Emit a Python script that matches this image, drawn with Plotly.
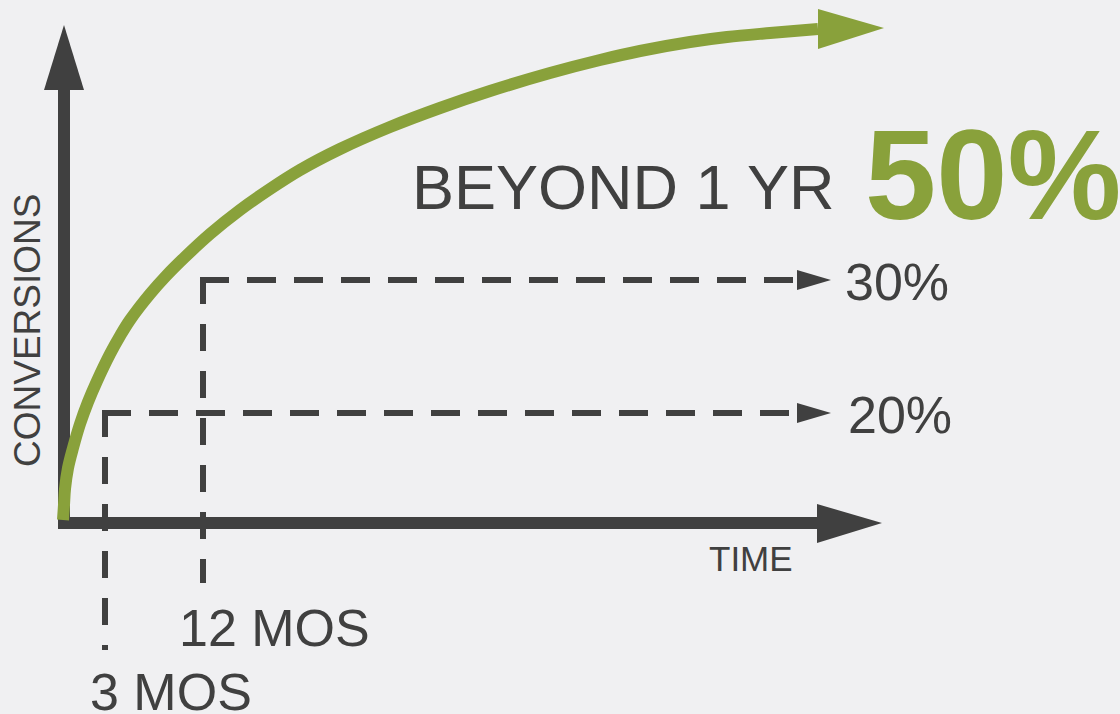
import plotly.graph_objects as go

# ---- data (chart drawn in a 1120 x 714 canvas coordinate frame, y downward) ----
curve_x = [63, 64, 65, 68, 73, 80, 88, 97, 110, 120, 130, 150, 166, 185, 210, 240, 270, 300, 340, 390, 440, 490, 550, 600, 640, 690, 727, 770, 818]
curve_y = [520, 505, 489, 468, 448, 424, 402, 381, 354, 336, 320, 294, 276, 257, 234, 210, 189, 170, 149, 127, 108, 91, 73, 60, 51, 42, 37, 33, 29]

milestone_labels = ["3 MOS", "12 MOS"]
milestone_x = [105, 203]
level_labels = ["20%", "30%"]
level_y = [413, 280]
milestone_end_y = [650, 583]
headline = "BEYOND 1 YR"
headline_value = "50%"
x_title = "TIME"
y_title = "CONVERSIONS"

DARK = "#404040"
GREEN = "#89a13b"
BG = "#f0f0f2"
FONT = "Liberation Sans, Arial, sans-serif"

fig = go.Figure()

shapes = []
# axes shafts
shapes.append(dict(type="line", x0=64, x1=64, y0=528, y1=88, line=dict(color=DARK, width=12), layer="below"))
shapes.append(dict(type="line", x0=58, x1=819, y0=523, y1=523, line=dict(color=DARK, width=12), layer="below"))
# axes arrowheads
shapes.append(dict(type="path", path="M 44 90 L 84 90 L 64 25 Z", fillcolor=DARK, line=dict(width=0), layer="below"))
shapes.append(dict(type="path", path="M 817 504 L 817 543 L 882 523 Z", fillcolor=DARK, line=dict(width=0), layer="below"))

# dashed guides
for mx, ly, ey in zip(milestone_x, level_y, milestone_end_y):
    shapes.append(dict(type="line", x0=mx, x1=mx, y0=ly - 3, y1=ey,
                       line=dict(color=DARK, width=6, dash="27px,20px"), layer="below"))
    shapes.append(dict(type="line", x0=mx - 3, x1=797, y0=ly, y1=ly,
                       line=dict(color=DARK, width=6, dash="29px,18px"), layer="below"))
    shapes.append(dict(type="path", path=f"M 797 {ly-10} L 797 {ly+10} L 831 {ly} Z",
                       fillcolor=DARK, line=dict(width=0), layer="below"))

# green curve arrowhead
shapes.append(dict(type="path", path="M 818 9 L 818 49 L 884 28 Z", fillcolor=GREEN, line=dict(width=0), layer="above"))

fig.add_trace(go.Scatter(x=curve_x, y=curve_y, mode="lines",
                         line=dict(color=GREEN, width=12, shape="spline", smoothing=1.0),
                         hoverinfo="skip", showlegend=False))

annotations = []
def txt(x, y, text, size, color=DARK, bold=False, angle=0, xanchor="center"):
    annotations.append(dict(x=x, y=y, xref="x", yref="y", text=f"<b>{text}</b>" if bold else text,
                            showarrow=False, xanchor=xanchor, yanchor="middle", textangle=angle,
                            font=dict(family=FONT, size=size, color=color)))

txt(623, 187, headline, 63)
txt(993, 174, headline_value, 128, color=GREEN, bold=True)
level_label_x = [900, 897]
for lab, ly, lx in zip(level_labels, level_y, level_label_x):
    txt(lx, ly + 2, lab, 52)
txt(751, 558, x_title, 35)
txt(27, 331, y_title, 37, angle=-90)
label_x = [171, 274]
label_y = [692, 628]
for lab, lx, lyy in zip(milestone_labels, label_x, label_y):
    txt(lx, lyy, lab, 52)

fig.update_layout(
    width=1120, height=714,
    margin=dict(l=0, r=0, t=0, b=0),
    paper_bgcolor=BG, plot_bgcolor=BG,
    xaxis=dict(range=[0, 1120], visible=False, fixedrange=True),
    yaxis=dict(range=[714, 0], visible=False, fixedrange=True),
    shapes=shapes, annotations=annotations,
    showlegend=False,
)

fig.write_html("out.html", config={"displayModeBar": False},
               post_script="document.body.style.margin='0';document.body.style.background='%s';" % BG)
